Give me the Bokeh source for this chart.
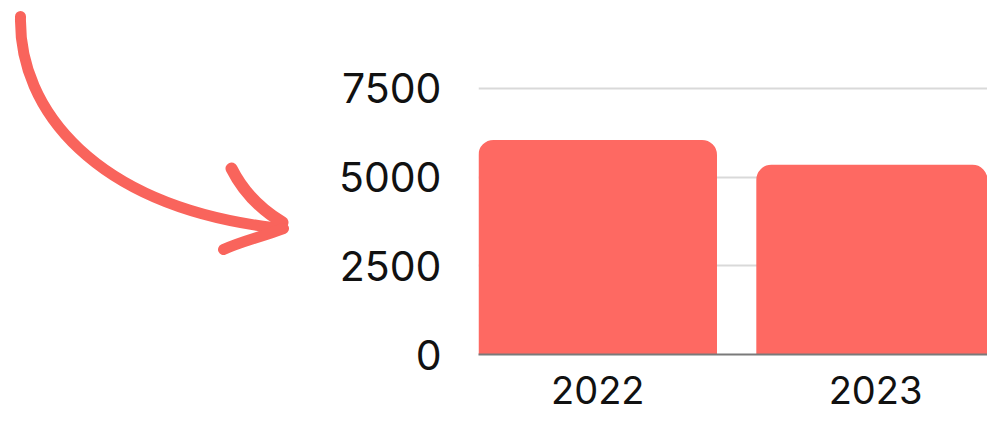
from bokeh.plotting import figure
from bokeh.layouts import row
from bokeh.models import Range1d, FixedTicker, ColumnDataSource
from bokeh.embed import file_html
from bokeh.resources import INLINE

# ---- data ----
years = ["2022", "2023"]
values = [6050, 5350]
y_ticks = [0, 2500, 5000, 7500]

BAR = "#FE6962"
ARROW = "#F9645C"
FONT = "Inter"

# ---- decorative arrow panel (page-pixel coordinates) ----
pa = figure(width=300, height=421, output_backend="svg", toolbar_location=None,
            x_range=Range1d(0, 300), y_range=Range1d(421, 0),
            min_border_left=0, min_border_right=0, min_border_top=0, min_border_bottom=0)
pa.frame_align = False
pa.axis.visible = False
pa.grid.visible = False
pa.outline_line_color = None
pa.bezier(x0=[20], y0=[16], x1=[272], y1=[227], cx0=[18], cy0=[110], cx1=[95], cy1=[205],
          line_color=ARROW, line_width=11, line_cap="round")
pa.bezier(x0=[231], y0=[168], x1=[282], y1=[222], cx0=[243], cy0=[192], cx1=[262], cy1=[210],
          line_color=ARROW, line_width=12, line_cap="round")
pa.bezier(x0=[283], y0=[228], x1=[223], y1=[249], cx0=[262], cy0=[236], cx1=[240], cy1=[241],
          line_color=ARROW, line_width=11, line_cap="round")

# ---- bar chart ----
xs = list(range(len(years)))
src = ColumnDataSource(dict(x=xs, top=values))

p = figure(width=687, height=421, output_backend="svg", toolbar_location=None,
           x_range=Range1d(-0.4293, 1.403), y_range=Range1d(0, 7556),
           min_border_left=178, min_border_right=0, min_border_top=86, min_border_bottom=67)
p.frame_align = False
p.outline_line_color = None
p.vbar(x="x", top="top", width=0.8585, source=src, fill_color=BAR, line_color=None,
       border_radius=(15, 15, 0, 0))

p.xgrid.visible = False
p.ygrid.grid_line_color = "#d9d9d9"
p.ygrid.grid_line_width = 2
p.yaxis.ticker = FixedTicker(ticks=y_ticks)
p.xaxis.ticker = FixedTicker(ticks=xs)
p.xaxis.major_label_overrides = {i: y for i, y in zip(xs, years)}

for ax in (p.xaxis[0], p.yaxis[0]):
    ax.major_tick_line_color = None
    ax.minor_tick_line_color = None
    ax.major_tick_out = 0
    ax.major_tick_in = 0
    ax.major_label_text_font = FONT
    ax.major_label_text_color = "#111111"
p.yaxis.major_label_text_font_size = "41px"
p.xaxis.major_label_text_font_size = "38px"
p.yaxis.axis_line_color = None
p.yaxis.major_label_standoff = 37
p.xaxis.axis_line_color = "#7a7a7a"
p.xaxis.axis_line_width = 2
p.xaxis.major_label_standoff = 21

layout = row(pa, p)
open("out.html", "w").write(file_html(layout, INLINE))
